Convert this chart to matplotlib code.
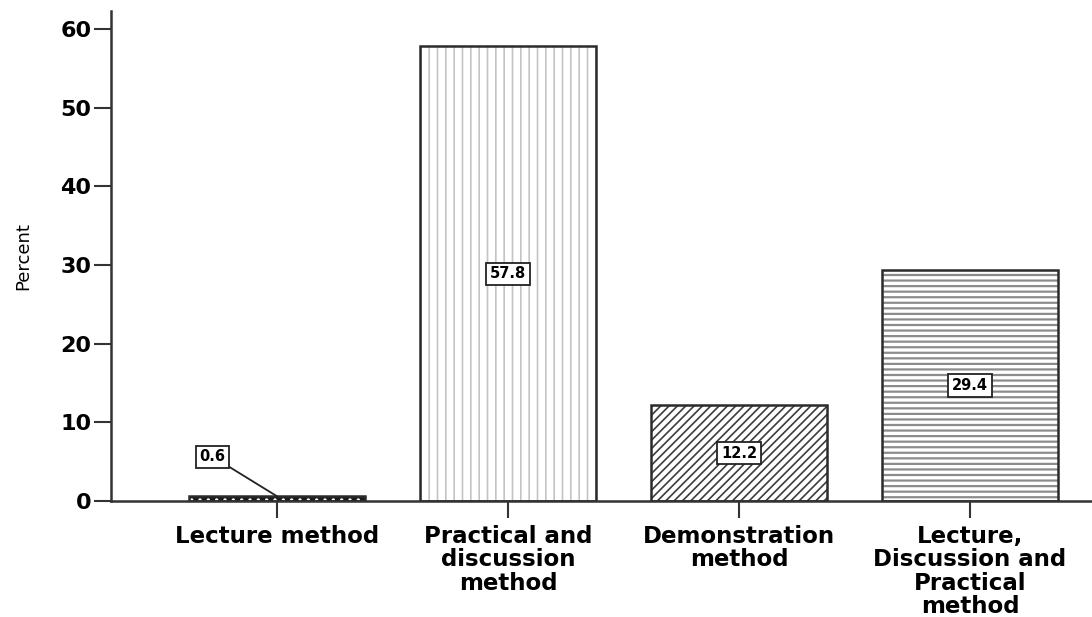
import matplotlib.pyplot as plt

# teaching methods and their share of responses (%)
metodos = ["Lecture method", "Practical and\ndiscussion\nmethod",
           "Demonstration\nmethod", "Lecture,\nDiscussion and\nPractical\nmethod"]
porcentajes = [0.6, 57.8, 12.2, 29.4]
etiquetas = ["0.6", "57.8", "12.2", "29.4"]

# fill pattern of each bar: (face, hatch, hatch colour, hatch width)
tramas = [("#1a1a1a", "..", "white", 1.2),
          ("white", "||", "#c4c4c4", 1.2),
          ("white", "////", "#3c3c3c", 1.2),
          ("white", "---", "#8c8c8c", 1.6)]

plt.rcParams["font.family"] = "DejaVu Sans"

fig = plt.figure(figsize=(10.92, 6.17), dpi=100)
ax = fig.add_axes([0.1016, 0.188, 0.8984, 0.794])

x = list(range(len(metodos)))
ancho = 0.762

for i in x:
    cara, trama, color, grosor = tramas[i]
    with plt.rc_context({"hatch.linewidth": grosor}):
        b = ax.bar(i, porcentajes[i], width=ancho, color=cara, hatch=trama,
                   edgecolor=color, linewidth=0, zorder=2)
    for p in b:
        if hasattr(p, "set_hatch_linewidth"):
            p.set_hatch_linewidth(grosor)
    ax.bar(i, porcentajes[i], width=ancho, fill=False,
           edgecolor="#2b2b2b", linewidth=1.8, zorder=3)

caja = dict(boxstyle="square,pad=0.25", facecolor="white",
            edgecolor="#222222", linewidth=1.3)

# value labels sit halfway up each bar; the tiny one gets a leader line
for i in x:
    if porcentajes[i] < 2:
        ax.annotate(etiquetas[i], xy=(i, porcentajes[i]), xytext=(i - 0.28, 5.6),
                    ha="center", va="center", fontsize=10.5, fontweight="bold",
                    bbox=caja, zorder=5,
                    arrowprops=dict(arrowstyle="-", color="#222222", lw=1.3,
                                    shrinkA=0, shrinkB=0, relpos=(1, 0)))
    else:
        ax.text(i, porcentajes[i] / 2, etiquetas[i], ha="center", va="center",
                fontsize=10.5, fontweight="bold", bbox=caja, zorder=5)

ax.set_xlim(-0.719, 3.528)
ax.set_ylim(0, 62.3)
ax.set_yticks([0, 10, 20, 30, 40, 50, 60])
ax.set_xticks(x)
ax.set_xticklabels(metodos, fontsize=16.5, fontweight="bold", linespacing=1.03,
                   va="top")
for t in ax.get_yticklabels():
    t.set_fontsize(16)
    t.set_fontweight("bold")

ax.tick_params(axis="y", length=12, width=1.5, pad=2, color="#333333")
ax.tick_params(axis="x", length=12, width=1.5, pad=5, color="#333333")
ax.set_ylabel("Percent", fontsize=13, labelpad=20)

for lado in ["top", "right"]:
    ax.spines[lado].set_visible(False)
for lado in ["left", "bottom"]:
    ax.spines[lado].set_linewidth(1.8)
    ax.spines[lado].set_color("#333333")

fig.savefig("out.png", dpi=100)
